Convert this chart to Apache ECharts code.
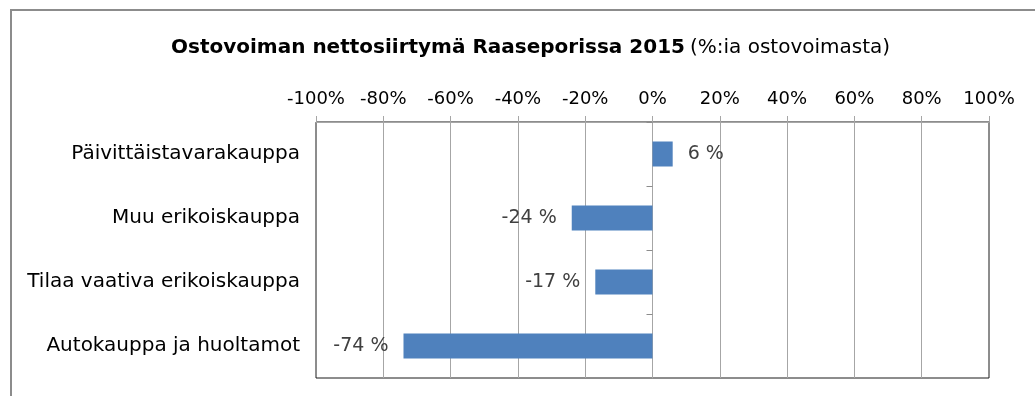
<!DOCTYPE html>
<html>
<head>
<meta charset="utf-8">
<script src="https://cdn.jsdelivr.net/npm/echarts@6/dist/echarts.min.js"></script>
<style>
html,body{margin:0;padding:0;background:#fff;}
#c{width:1035px;height:396px;}
</style>
</head>
<body>
<div id="c"></div>
<script>
var categories = ["Päivittäistavarakauppa", "Muu erikoiskauppa", "Tilaa vaativa erikoiskauppa", "Autokauppa ja huoltamot"];
var values = [6, -24, -17, -74];
var titleBold = "Ostovoiman nettosiirtymä Raaseporissa 2015";
var titleNormal = "(%:ia ostovoimasta)";
var axisMin = -100, axisMax = 100, axisStep = 20;

var FONT = "DejaVu Sans, Verdana, sans-serif";
var chart = echarts.init(document.getElementById('c'), null, {renderer: 'canvas'});
var gridLeft = 316, gridRight = 46;
var plotW = 1035 - gridLeft - gridRight;
var zeroOffset = -plotW * (0 - axisMin) / (axisMax - axisMin);
var option = {
  animation: false,
  backgroundColor: '#fff',
  graphic: [{
    type: 'rect', shape: {x: 11, y: 10, width: 1200, height: 600},
    style: {fill: 'none', stroke: '#8c8c8c', lineWidth: 2}, silent: true, z: 0
  }],
  title: {
    text: '{b|' + titleBold + '} {n|' + titleNormal + '}',
    left: 166, top: 33,
    textStyle: {
      rich: {
        b: {fontFamily: FONT, fontWeight: 'bold', fontSize: 20, color: '#000'},
        n: {fontFamily: FONT, fontWeight: 'normal', fontSize: 20, color: '#000'}
      }
    }
  },
  grid: {left: gridLeft, right: gridRight, top: 122, bottom: 18, show: true, borderColor: '#1a1a1a', borderWidth: 1, backgroundColor: '#fff'},
  xAxis: {
    type: 'value', position: 'top', min: axisMin, max: axisMax, interval: axisStep,
    axisLine: {show: true, onZero: false, lineStyle: {color: '#a6a6a6', width: 1}},
    axisTick: {show: true, length: 6, lineStyle: {color: '#a6a6a6'}},
    axisLabel: {formatter: '{value}%', fontFamily: FONT, fontSize: 18, color: '#000', margin: 14},
    splitLine: {show: true, showMinLine: false, showMaxLine: false, lineStyle: {color: '#a6a6a6', width: 1}}
  },
  yAxis: [{
    type: 'category', data: categories, inverse: true, position: 'left',
    axisLine: {show: false}, axisTick: {show: false},
    axisLabel: {fontFamily: FONT, fontSize: 20, color: '#000', margin: 16}
  }, {
    type: 'category', data: categories, inverse: true, position: 'left', offset: zeroOffset,
    axisLine: {show: true, onZero: false, lineStyle: {color: '#a6a6a6'}},
    axisTick: {show: true, length: 6, inside: false, lineStyle: {color: '#8c8c8c'}},
    axisLabel: {show: false}
  }],
  series: [{
    type: 'bar', yAxisIndex: 0, barWidth: 25,
    itemStyle: {color: '#4f81bd'},
    data: values.map(function (v) {
      return {value: v, label: {position: v < 0 ? 'left' : 'right'}};
    }),
    label: {
      show: true, distance: 15, fontFamily: FONT, fontSize: 19, color: '#404040',
      formatter: function (p) { return p.value + ' %'; }
    }
  }]
};
chart.setOption(option);
</script>
</body>
</html>
